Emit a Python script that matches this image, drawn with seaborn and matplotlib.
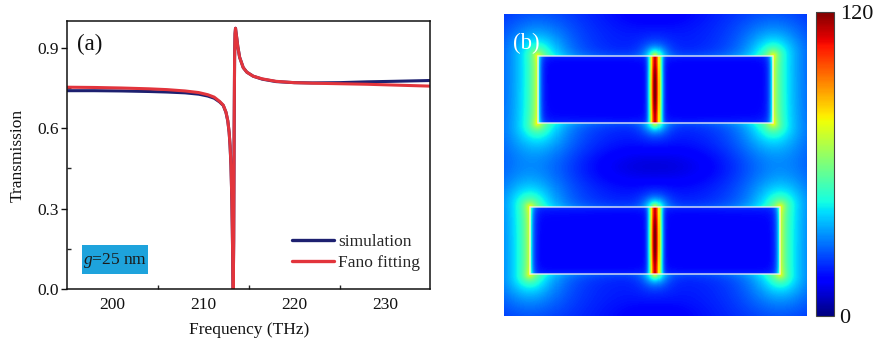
import numpy as np
import pandas as pd
import matplotlib
matplotlib.use("Agg")
import matplotlib.pyplot as plt
from matplotlib.patches import Rectangle
from matplotlib.lines import Line2D
import seaborn as sns

# ---------------- transmission spectra ----------------
freq = [195, 198, 201, 204, 206, 208, 209.5, 210.5, 211.2, 211.8, 212.2, 212.5,
        212.7, 212.85, 212.95, 213.05, 213.15, 213.2, 213.25, 213.3, 213.35,
        213.4, 213.45, 213.5, 213.55, 213.6, 213.7, 213.8, 214.0, 214.4, 214.8,
        215.5, 216.5, 218, 220, 222, 225, 228, 231, 235]

t_fano = [0.753, 0.752, 0.750, 0.747, 0.744, 0.739, 0.733, 0.725, 0.716, 0.700,
          0.686, 0.660, 0.628, 0.585, 0.536, 0.462, 0.327, 0.221, 0.088, 0.000,
          0.179, 0.598, 0.863, 0.953, 0.973, 0.959, 0.933, 0.905, 0.865, 0.826,
          0.809, 0.794, 0.784, 0.775, 0.770, 0.768, 0.766, 0.764, 0.761, 0.757]

t_sim = [0.740, 0.740, 0.739, 0.737, 0.735, 0.732, 0.727, 0.720, 0.712, 0.698,
         0.685, 0.659, 0.627, 0.584, 0.535, 0.461, 0.326, 0.220, 0.088, 0.000,
         0.179, 0.598, 0.863, 0.953, 0.973, 0.959, 0.933, 0.905, 0.865, 0.826,
         0.809, 0.794, 0.783, 0.774, 0.770, 0.769, 0.770, 0.773, 0.775, 0.778]

series_names = ["simulation", "Fano fitting"]
series_colors = ["#1d2070", "#e2343c"]

x_ticks = [200, 210, 220, 230]
y_ticks = [0.0, 0.3, 0.6, 0.9]

# ---------------- field map geometry (fractions of the map) ----------------
# each nanobar pair: left end, right end, top, bottom, gap centre
bar_x0 = [0.111, 0.086]
bar_x1 = [0.888, 0.911]
bar_y0 = [0.139, 0.640]
bar_y1 = [0.361, 0.861]
gap_x = [0.500, 0.500]
field_max = 120
cbar_labels = ["0", "120"]

# ---------------- figure ----------------
sns.set_theme(style="white")
plt.rcParams["font.family"] = ["Liberation Serif", "DejaVu Serif"]
plt.rcParams["mathtext.fontset"] = "custom"
plt.rcParams["mathtext.it"] = "Liberation Serif:italic"
plt.rcParams["mathtext.rm"] = "Liberation Serif"

fig = plt.figure(figsize=(8.8, 3.45), dpi=100)
ax = fig.add_axes([0.0761, 0.1623, 0.413, 0.7768])

df = pd.DataFrame({
    "Frequency": freq * 2,
    "Transmission": t_sim + t_fano,
    "series": [series_names[0]] * len(freq) + [series_names[1]] * len(freq),
})
sns.lineplot(data=df, x="Frequency", y="Transmission", hue="series",
             hue_order=series_names, palette=series_colors, linewidth=2.2,
             sort=False, legend=False, ax=ax)

ax.set_xlim(195, 235)
ax.set_ylim(0, 1.0)
ax.set_xticks(x_ticks)
ax.set_yticks(y_ticks)
ax.set_yticklabels([f"{v:.1f}" for v in y_ticks])
ax.set_xticks([205, 215, 225], minor=True)
ax.set_yticks([0.15, 0.45, 0.75], minor=True)
ax.tick_params(axis="x", which="major", direction="in", length=5, width=1,
               labelsize=12.5, pad=6, colors="#111111")
ax.tick_params(axis="x", which="minor", direction="in", length=3, width=1,
               bottom=True)
ax.tick_params(axis="y", which="major", direction="out", length=4, width=1,
               labelsize=12.5, pad=2, left=True, colors="#111111")
ax.tick_params(axis="y", which="minor", direction="in", length=3, width=1,
               left=True)
for s in ax.spines.values():
    s.set_color("#111111")
    s.set_linewidth(1.1)
    s.set_visible(True)
ax.set_xlabel("Frequency (THz)", fontsize=12.5, labelpad=6, color="#111111")
ax.set_ylabel("Transmission", fontsize=12.5, labelpad=8, color="#111111")

ax.text(0.027, 0.914, "(a)", transform=ax.transAxes, fontsize=16.5,
        va="center", ha="left", color="#111111")

# gap-size tag
ax.add_patch(Rectangle((0.041, 0.056), 0.182, 0.108, transform=ax.transAxes,
                       facecolor="#1ea3dc", edgecolor="none", zorder=3))
ax.text(0.132, 0.108, r"$g$=25 nm", transform=ax.transAxes, fontsize=12.5,
        ha="center", va="center", color="#1a1a1a", zorder=4)

handles = [Line2D([], [], color=c, lw=2.4) for c in series_colors]
ax.legend(handles, series_names, loc="upper left", bbox_to_anchor=(0.62, 0.205),
          frameon=False, fontsize=12.5, handlelength=2.4, handletextpad=0.25,
          borderpad=0, labelspacing=0.25, borderaxespad=0)

# ---------------- electric field enhancement map ----------------
N = 300
g = (np.arange(N) + 0.5) / N
X, Y = np.meshgrid(g, g)


def seg_dist(xe, ya, yb):
    return np.hypot(X - xe, Y - np.clip(Y, ya, yb))


# weak background with darker lobes between and around the bar pairs
F = 17.0 - 8.0 * np.exp(-((Y - 0.505) / 0.07) ** 2) * np.exp(-((X - 0.5) / 0.3) ** 2)
F -= 4.0 * np.exp(-(Y / 0.05) ** 2) * np.exp(-((X - 0.5) / 0.15) ** 2)
F -= 4.0 * np.exp(-((1 - Y) / 0.05) ** 2) * np.exp(-((X - 0.5) / 0.15) ** 2)

for x0, x1, y0, y1, gx in zip(bar_x0, bar_x1, bar_y0, bar_y1, gap_x):
    inside = (X > x0) & (X < x1) & (Y > y0) & (Y < y1)
    F[inside] -= 3.0
    # bright short ends of each bar
    for xe in (x0, x1):
        d = seg_dist(xe, y0, y1)
        glow = np.where(inside, 50 * np.exp(-d / 0.01),
                        45 * np.exp(-d / 0.08) + 12 * np.exp(-d / 0.012))
        F += glow
    # faint light along the long edges
    dx_in = np.clip(X, x0, x1)
    for ye in (y0, y1):
        d = np.hypot(X - dx_in, Y - ye)
        F += 6 * np.exp(-d / 0.015)
    # hot spot in the gap
    dxg = np.abs(X - gx)
    in_y = (Y >= y0) & (Y <= y1)
    yc = 0.5 * (y0 + y1)
    h = 0.5 * (y1 - y0)
    taper = 1.0 - 0.15 * ((Y - yc) / h) ** 2
    F += np.where(in_y, 100 * np.exp(-(dxg / 0.018) ** 2) * taper
                  + 8 * np.exp(-dxg / 0.02), 0.0)
    d_gap = seg_dist(gx, y0, y1)
    F += np.where(in_y, 0.0, 55 * np.exp(-d_gap / 0.022))

F = np.clip(F, 0, field_max)

axh = fig.add_axes([0.5727, 0.0841, 0.3443, 0.8754])
cax = fig.add_axes([0.9273, 0.0841, 0.0205, 0.8812])
sns.heatmap(F, cmap="jet", vmin=0, vmax=field_max, ax=axh, cbar_ax=cax,
            xticklabels=False, yticklabels=False, rasterized=True)
for x0, x1, y0, y1 in zip(bar_x0, bar_x1, bar_y0, bar_y1):
    axh.add_patch(Rectangle((x0 * N, y0 * N), (x1 - x0) * N, (y1 - y0) * N,
                            fill=False, edgecolor="#f2f2f2", linewidth=1.1,
                            alpha=0.85))
axh.text(0.029, 0.904, "(b)", transform=axh.transAxes, fontsize=16.5,
         color="white", va="center", ha="left")

cbar = axh.collections[0].colorbar
cbar.outline.set_linewidth(0.8)
cbar.outline.set_edgecolor("#444444")
cbar.set_ticks([0, field_max])
cbar.set_ticklabels(cbar_labels)
cax.tick_params(length=0, labelsize=16, pad=4, colors="#111111")

fig.savefig("out.png", dpi=100)
